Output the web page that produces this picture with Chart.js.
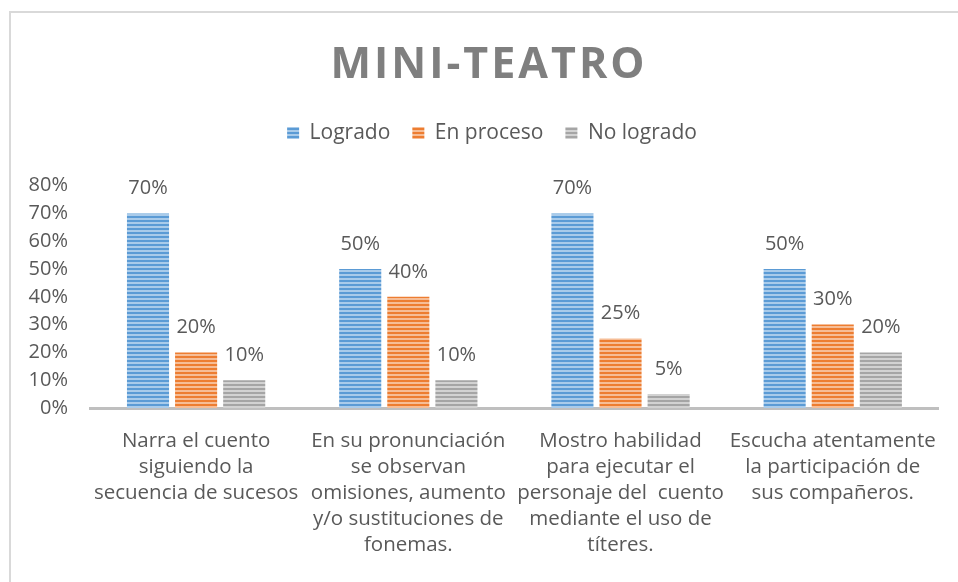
<!DOCTYPE html>
<html>
<head>
<meta charset="utf-8">
<script src="https://cdn.jsdelivr.net/npm/chart.js@4.4.1/dist/chart.umd.min.js"></script>
<style>
  body { margin: 0; background: #fff; }
  #frame { position: absolute; left: 9px; top: 11px; width: 949px; height: 571px;
           border-left: 2px solid #d9d9d9; border-top: 2px solid #d9d9d9; box-sizing: border-box; }
  #chart { position: absolute; left: 0; top: 0; }
</style>
</head>
<body>
<div id="frame"></div>
<canvas id="chart" width="958" height="582"></canvas>
<script>
var categorias = [
  ['Narra el cuento', 'siguiendo la', 'secuencia de sucesos'],
  ['En su pronunciación', 'se observan', 'omisiones, aumento', 'y/o sustituciones de', 'fonemas.'],
  ['Mostro habilidad', 'para ejecutar el', 'personaje del  cuento', 'mediante el uso de', 'títeres.'],
  ['Escucha atentamente', 'la participación de', 'sus compañeros.']
];
var logrado = [70, 50, 70, 50];
var enProceso = [20, 40, 25, 30];
var noLogrado = [10, 10, 5, 20];
var ticksY = [0, 10, 20, 30, 40, 50, 60, 70, 80];

var fuente = 'Open Sans';
var gris = '#595959';

// relleno de rayas horizontales, como el patron de Excel
function rayas(color, claro) {
  var c = document.createElement('canvas');
  c.width = 4; c.height = 4;
  var x = c.getContext('2d');
  x.fillStyle = claro; x.fillRect(0, 0, 4, 4);
  x.fillStyle = color; x.fillRect(0, 0, 4, 2);
  return x.createPattern(c, 'repeat');
}

var etiquetas = {
  id: 'etiquetas',
  afterDatasetsDraw: function(chart) {
    var ctx = chart.ctx;
    ctx.save();
    ctx.font = '20px "' + fuente + '"';
    ctx.fillStyle = gris;
    ctx.textAlign = 'center';
    ctx.textBaseline = 'middle';
    chart.data.datasets.forEach(function(ds, i) {
      var meta = chart.getDatasetMeta(i);
      meta.data.forEach(function(bar, j) {
        ctx.fillText(ds.data[j] + '%', bar.x, bar.y - 25);
      });
    });
    ctx.restore();
  }
};

var chart = new Chart(document.getElementById('chart'), {
  type: 'bar',
  data: {
    labels: categorias,
    datasets: [
      { label: 'Logrado', data: logrado, backgroundColor: rayas('#5b9bd5', '#a9cbea') },
      { label: 'En proceso', data: enProceso, backgroundColor: rayas('#ed7d31', '#f6bd96') },
      { label: 'No logrado', data: noLogrado, backgroundColor: rayas('#a5a5a5', '#d2d2d2') }
    ]
  },
  options: {
    responsive: false,
    animation: false,
    layout: { padding: { left: 0, right: 18, top: 0, bottom: 0 } },
    datasets: { bar: { categoryPercentage: 0.68, barPercentage: 0.875 } },
    plugins: {
      title: {
        display: true,
        text: 'MINI-TEATRO',
        color: '#7f7f7f',
        font: { family: fuente, size: 43, weight: 'bold' },
        padding: { top: 40, bottom: 9 }
      },
      legend: {
        position: 'top',
        labels: {
          color: gris,
          font: { family: fuente, size: 21 },
          boxWidth: 12, boxHeight: 12,
          padding: 22
        }
      },
      tooltip: { enabled: false }
    },
    scales: {
      x: {
        grid: { display: false, drawTicks: false },
        border: { display: true, color: '#bfbfbf', width: 3 },
        ticks: { color: gris, font: { family: fuente, size: 20.5, lineHeight: 1.27 }, padding: 20, maxRotation: 0, autoSkip: false },
        afterFit: function(s) { s.height = 174; }
      },
      y: {
        min: 0, max: 80,
        grid: { display: false, drawTicks: false },
        border: { display: false },
        afterBuildTicks: function(s) { s.ticks = ticksY.map(function(v) { return { value: v }; }); },
        ticks: { color: gris, font: { family: fuente, size: 20 }, padding: 22,
                 callback: function(v) { return v + '%'; } },
        afterFit: function(s) { s.width = 90; }
      }
    }
  },
  plugins: [etiquetas]
});

// titulo con espaciado de letras, algo corrido a la derecha
var tb = chart.titleBlock;
var dibujarTitulo = tb.draw.bind(tb);
tb.draw = function() {
  chart.ctx.save();
  chart.ctx.letterSpacing = '3px';
  chart.ctx.translate(19, 0);
  dibujarTitulo();
  chart.ctx.restore();
};
// leyenda corrida y con mas aire debajo
var lg = chart.legend;
var ajustarLeyenda = lg.fit.bind(lg);
lg.fit = function() {
  ajustarLeyenda();
  this.height += 32;
};
var dibujarLeyenda = lg.draw.bind(lg);
lg.draw = function() {
  chart.ctx.save();
  chart.ctx.translate(22, 0);
  dibujarLeyenda();
  chart.ctx.restore();
};
chart.update();
</script>
</body>
</html>
